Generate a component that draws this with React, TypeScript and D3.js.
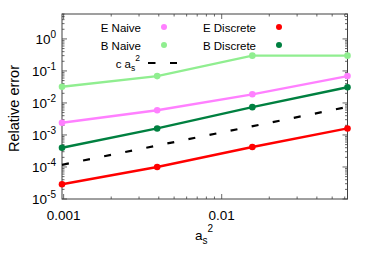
import React from "react";
import * as d3 from "d3";

// a_s^2 values (1/32)^2 .. (1/4)^2
const asSq = [1 / 1024, 1 / 256, 1 / 64, 1 / 16];

const eNaive = [0.0024, 0.0059, 0.0186, 0.069];
const bNaive = [0.032, 0.069, 0.3, 0.3];
const eDiscrete = [2.9e-5, 1.0e-4, 4.2e-4, 0.0016];
const bDiscrete = [0.0004, 0.0016, 0.0074, 0.031];
// c a_s^2 reference line, endpoints
const refX = [1 / 1024, 1 / 16];
const refY = [1.17e-4, 7.5e-3];

const yTickExps = [0, -1, -2, -3, -4, -5];
const xTickLabels = ["0.001", "0.01"];

const series = [
  { name: "E Naive", values: eNaive, color: "#ff80ff", col: 0, row: 0 },
  { name: "B Naive", values: bNaive, color: "#90ee90", col: 0, row: 1 },
  { name: "E Discrete", values: eDiscrete, color: "#ff0000", col: 1, row: 0 },
  { name: "B Discrete", values: bDiscrete, color: "#008040", col: 1, row: 1 },
];

const W = 374;
const H = 262;
const m = { left: 62, right: 347.5, top: 14, bottom: 199 };
const font = "'Liberation Sans', Arial, sans-serif";

export default function App() {
  const x = d3.scaleLog().domain([1 / 1024, 1 / 16]).range([m.left, m.right]);
  const y = d3.scaleLog().domain([1e-5, 6.0]).range([m.bottom, m.top]);

  const line = d3
    .line<[number, number]>()
    .x((d) => x(d[0]))
    .y((d) => y(d[1]));

  // ticks
  const xMajor = [0.001, 0.01];
  const xMinor: number[] = [];
  [0.001, 0.01].forEach((b) => {
    for (let k = 2; k <= 9; k++) {
      const v = b * k;
      if (v >= x.domain()[0] && v <= x.domain()[1]) xMinor.push(v);
    }
  });
  const yMinor: number[] = [];
  for (let e = -5; e <= 0; e++) {
    for (let k = 2; k <= 9; k++) {
      const v = k * Math.pow(10, e);
      if (v <= y.domain()[1]) yMinor.push(v);
    }
  }
  const major = 5;
  const minor = 2.5;
  const axisColor = "#404040";

  const legendCols = [
    { textX: 141, markX: 164 },
    { textX: 256, markX: 279 },
  ];
  const legendRows = [27, 45, 63];

  return (
    <svg
      width={W}
      height={H}
      style={{ position: "absolute", left: 0, top: 0, background: "white" }}
      fontFamily={font}
    >
      {/* ticks */}
      <g stroke={axisColor} strokeWidth={0.8}>
        {xMajor.map((v) => (
          <g key={"xM" + v}>
            <line x1={x(v)} x2={x(v)} y1={m.bottom} y2={m.bottom - major} />
            <line x1={x(v)} x2={x(v)} y1={m.top} y2={m.top + major} />
          </g>
        ))}
        {xMinor.map((v) => (
          <g key={"xm" + v}>
            <line x1={x(v)} x2={x(v)} y1={m.bottom} y2={m.bottom - minor} />
            <line x1={x(v)} x2={x(v)} y1={m.top} y2={m.top + minor} />
          </g>
        ))}
        {yTickExps.map((e) => {
          const yy = y(Math.pow(10, e));
          return (
            <g key={"yM" + e}>
              <line x1={m.left} x2={m.left + major} y1={yy} y2={yy} />
              <line x1={m.right} x2={m.right - major} y1={yy} y2={yy} />
            </g>
          );
        })}
        {yMinor.map((v) => (
          <g key={"ym" + v}>
            <line x1={m.left} x2={m.left + minor} y1={y(v)} y2={y(v)} />
            <line x1={m.right} x2={m.right - minor} y1={y(v)} y2={y(v)} />
          </g>
        ))}
      </g>

      {/* frame */}
      <rect
        x={m.left}
        y={m.top}
        width={m.right - m.left}
        height={m.bottom - m.top}
        fill="none"
        stroke={axisColor}
        strokeWidth={1}
      />

      {/* y tick labels */}
      {yTickExps.map((e) => (
        <text
          key={"yl" + e}
          x={56}
          y={y(Math.pow(10, e)) + 5}
          textAnchor="end"
          fontSize={13.5}
          fill="#000"
        >
          <tspan>10</tspan>
          <tspan dy={-6} fontSize={10}>
            {e}
          </tspan>
        </text>
      ))}

      {/* x tick labels */}
      {xMajor.map((v, i) => (
        <text
          key={"xl" + v}
          x={x(v)}
          y={220}
          textAnchor="middle"
          fontSize={13.5}
          fill="#000"
        >
          {xTickLabels[i]}
        </text>
      ))}

      {/* axis titles */}
      <text
        transform={`translate(19,${(m.top + m.bottom) / 2 + 2}) rotate(-90)`}
        textAnchor="middle"
        fontSize={14.5}
        fill="#000"
      >
        Relative error
      </text>
      <text x={195} y={240} fontSize={13.5} fill="#000">
        <tspan>a</tspan>
        <tspan dy={4} fontSize={10}>
          s
        </tspan>
        <tspan dy={-12} fontSize={10}>
          2
        </tspan>
      </text>

      {/* reference dashed line */}
      <path
        d={line(refX.map((v, i) => [v, refY[i]]) as [number, number][]) || ""}
        fill="none"
        stroke="#000"
        strokeWidth={2.2}
        strokeDasharray="7,14.5"
      />

      {/* data series */}
      {series.map((s) => (
        <g key={s.name}>
          <path
            d={line(asSq.map((v, i) => [v, s.values[i]]) as [number, number][]) || ""}
            fill="none"
            stroke={s.color}
            strokeWidth={2.4}
          />
          {asSq.map((v, i) => (
            <circle key={i} cx={x(v)} cy={y(s.values[i])} r={3.3} fill={s.color} />
          ))}
        </g>
      ))}

      {/* legend */}
      {series.map((s) => (
        <g key={"lg" + s.name}>
          <text
            x={legendCols[s.col].textX}
            y={legendRows[s.row] + 4.5}
            textAnchor="end"
            fontSize={11.5}
            fill="#000"
          >
            {s.name}
          </text>
          <circle cx={legendCols[s.col].markX} cy={legendRows[s.row]} r={3} fill={s.color} />
        </g>
      ))}
      <text x={140} y={legendRows[2] + 4.5} textAnchor="end" fontSize={11.5} fill="#000">
        <tspan>c a</tspan>
        <tspan dy={3.5} fontSize={8.5}>
          s
        </tspan>
        <tspan dy={-10} fontSize={8.5}>
          2
        </tspan>
      </text>
      <line
        x1={148}
        x2={177}
        y1={legendRows[2]}
        y2={legendRows[2]}
        stroke="#000"
        strokeWidth={2.2}
        strokeDasharray="7.5,14.5"
      />
    </svg>
  );
}
